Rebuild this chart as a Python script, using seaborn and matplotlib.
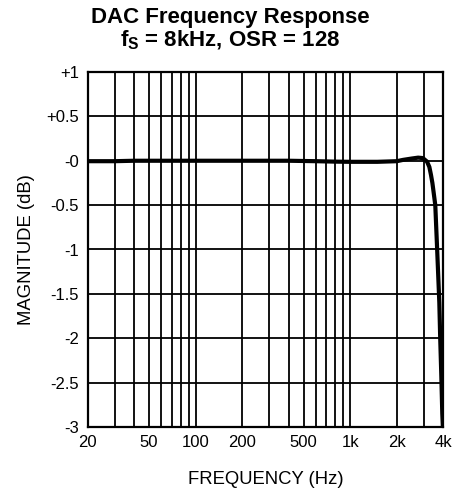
import matplotlib
matplotlib.use("Agg")
import matplotlib.pyplot as plt
import seaborn as sns
import pandas as pd
from matplotlib.ticker import LogLocator, NullFormatter, FixedLocator, FixedFormatter

freq_hz = [20, 30, 40, 60, 100, 200, 400, 600, 800, 1000, 1500, 2000, 2200, 2500,
           2750, 2950, 3140, 3250, 3330, 3400, 3460, 3550, 3640, 3700, 3770, 3820,
           3880, 3940, 3975, 4000]
magnitude_db = [-0.005, -0.005, 0.0, 0.0, 0.0, 0.0, 0.0, -0.005, -0.01, -0.012,
                -0.012, -0.005, 0.01, 0.025, 0.035, 0.03, -0.01, -0.07, -0.16,
                -0.25, -0.35, -0.5, -0.95, -1.25, -1.6, -2.0, -2.4, -2.85, -3.0, -3.2]

x_ticks = [20, 50, 100, 200, 500, 1000, 2000, 4000]
x_ticklabels = ["20", "50", "100", "200", "500", "1k", "2k", "4k"]
y_ticks = [1, 0.5, 0, -0.5, -1, -1.5, -2, -2.5, -3]
y_ticklabels = ["+1", "+0.5", "-0", "-0.5", "-1", "-1.5", "-2", "-2.5", "-3"]

sns.set_theme(style="white")
plt.rcParams["font.family"] = ["Liberation Sans", "DejaVu Sans"]
plt.rcParams["mathtext.fontset"] = "custom"
plt.rcParams["mathtext.rm"] = "Liberation Sans:bold"
plt.rcParams["mathtext.it"] = "Liberation Sans:bold"
plt.rcParams["mathtext.bf"] = "Liberation Sans:bold"

df = pd.DataFrame({"freq": freq_hz, "mag": magnitude_db})

fig = plt.figure(figsize=(4.53, 4.90), dpi=100)
ax = fig.add_axes([87.5 / 453, 1 - 427 / 490, (443.3 - 87.5) / 453, (427 - 72) / 490])

sns.lineplot(data=df, x="freq", y="mag", ax=ax, color="black", linewidth=3.0,
             sort=False, zorder=5)

ax.set_xscale("log")
ax.set_xlim(20, 4000)
ax.set_ylim(-3, 1)

ax.xaxis.set_major_locator(FixedLocator(x_ticks))
ax.xaxis.set_major_formatter(FixedFormatter(x_ticklabels))
ax.xaxis.set_minor_locator(LogLocator(base=10, subs=range(1, 10), numticks=50))
ax.xaxis.set_minor_formatter(NullFormatter())
ax.grid(True, which="both", axis="x", color="black", linewidth=1.3)
ax.set_yticks(y_ticks)
ax.set_yticklabels(y_ticklabels)
ax.grid(True, which="major", axis="y", color="black", linewidth=1.3)

ax.tick_params(axis="both", which="both", length=0, labelsize=12, colors="black")
ax.tick_params(axis="x", which="major", pad=6)
ax.tick_params(axis="y", pad=6)

for s in ax.spines.values():
    s.set_color("black")
    s.set_linewidth(1.6)

ax.set_xlabel("FREQUENCY (Hz)", fontsize=13.3, color="black", labelpad=15)
ax.set_ylabel("MAGNITUDE (dB)", fontsize=13.3, color="black", labelpad=8)

fig.text(0.508, 1 - 17 / 490, "DAC Frequency Response", ha="center", va="center",
         fontsize=16, fontweight="bold", color="black")
fig.text(0.508, 1 - 40 / 490, r"f$_\mathrm{S}$ = 8kHz, OSR = 128", ha="center",
         va="center", fontsize=16, fontweight="bold", color="black")

fig.savefig("out.png", dpi=100, facecolor="white")
